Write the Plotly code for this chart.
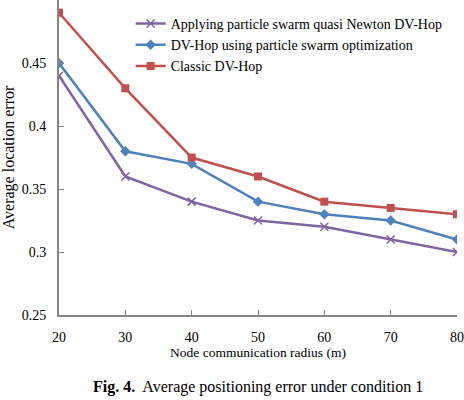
import plotly.graph_objects as go

radius = [20, 30, 40, 50, 60, 70, 80]
quasi_newton = [0.44, 0.36, 0.34, 0.325, 0.32, 0.31, 0.30]
pso = [0.45, 0.38, 0.37, 0.34, 0.33, 0.325, 0.31]
classic = [0.49, 0.43, 0.375, 0.36, 0.34, 0.335, 0.33]
names = ["Applying particle swarm quasi Newton DV-Hop",
         "DV-Hop using particle swarm optimization",
         "Classic DV-Hop"]

font = "Liberation Serif"
fig = go.Figure()
fig.add_trace(go.Scatter(x=radius, y=quasi_newton, name=names[0], mode="lines+markers",
                         line=dict(color="#8064A2", width=2.5),
                         marker=dict(symbol="x-thin", size=8, line=dict(color="#8064A2", width=1.5))))
fig.add_trace(go.Scatter(x=radius, y=pso, name=names[1], mode="lines+markers",
                         line=dict(color="#4F81BD", width=2.5),
                         marker=dict(symbol="diamond", size=8, color="#4F81BD")))
fig.add_trace(go.Scatter(x=radius, y=classic, name=names[2], mode="lines+markers",
                         line=dict(color="#C0504D", width=2.5),
                         marker=dict(symbol="square", size=8, color="#C0504D")))

fig.update_layout(
    width=464, height=400,
    margin=dict(l=59, r=7, t=0, b=85),
    paper_bgcolor="white", plot_bgcolor="white",
    font=dict(family=font, size=14, color="black"),
    showlegend=True,
    legend=dict(x=0.18, y=0.975, xanchor="left", yanchor="top", bgcolor="rgba(0,0,0,0)",
                font=dict(size=14), itemwidth=30, tracegroupgap=0),
    xaxis=dict(range=[20, 80], tickvals=radius, ticks="inside", ticklen=5, tickcolor="#868686",
               ticklabelstandoff=8,
               showline=True, linecolor="#868686", linewidth=2, showgrid=False, zeroline=False,
               title=dict(text="Node communication radius (m)", standoff=4, font=dict(size=13.5))),
    yaxis=dict(range=[0.25, 0.5001], tickvals=[0.25, 0.3, 0.35, 0.4, 0.45, 0.5],
               ticktext=["0.25", "0.3", "0.35", "0.4", "0.45", "0.5"],
               ticks="inside", ticklen=5, ticklabelstandoff=8,
               tickcolor="#868686", showline=True, linecolor="#868686", linewidth=2,
               showgrid=False, zeroline=False,
               title=dict(text="Average location error", standoff=6, font=dict(size=16))),
    annotations=[dict(text="<b>Fig. 4.</b>  Average positioning error under condition 1",
                      x=0.5, xref="paper", y=-0.23, yref="paper", xanchor="center",
                      yanchor="middle", showarrow=False, font=dict(size=16))],
)
fig.write_html("out.html")
